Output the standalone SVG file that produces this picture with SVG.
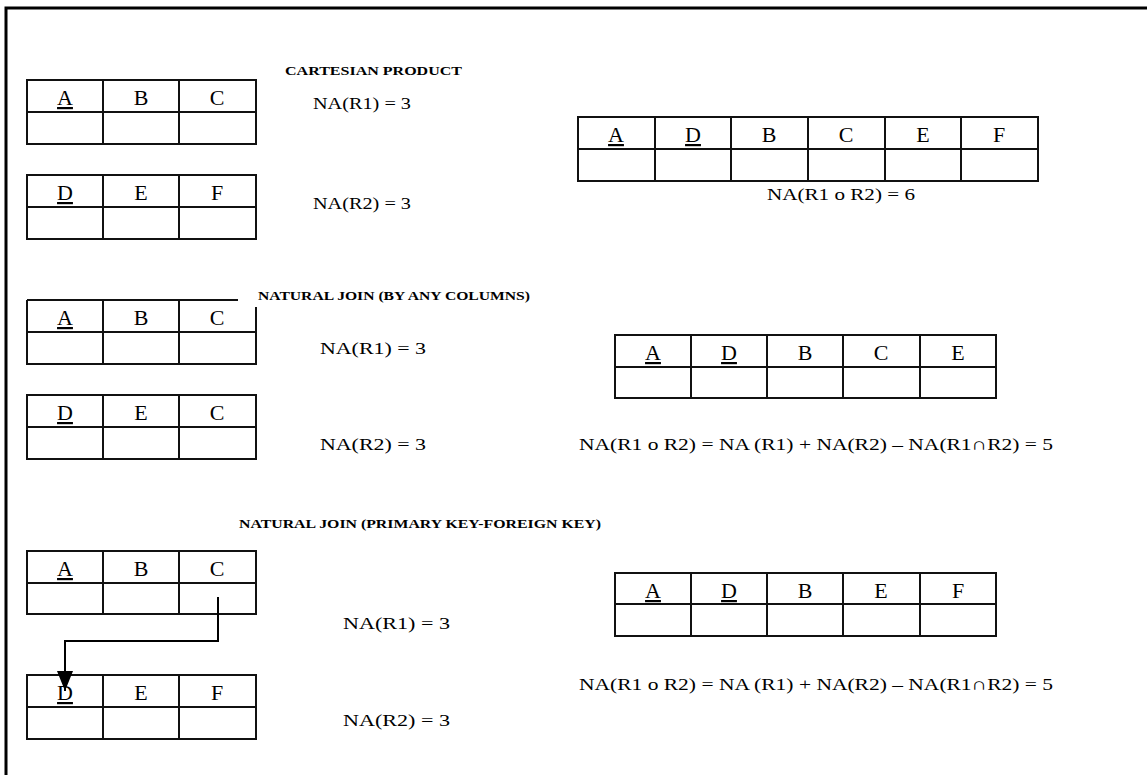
<svg xmlns="http://www.w3.org/2000/svg" width="1147" height="775" viewBox="0 0 1147 775">
  <style>
    .frame { stroke: #000; stroke-width: 3; fill: none; }
    .tbl { stroke: #111; stroke-width: 2; fill: none; }
    .hd { font-family: "Liberation Serif", "Times New Roman", serif; font-size: 22px; fill: #000; text-anchor: middle; }
    .pk { text-decoration: underline; }
    .na { font-family: "Liberation Serif", "Times New Roman", serif; font-size: 17px; fill: #000; }
    .title { font-family: "Liberation Serif", "Times New Roman", serif; font-size: 13px; font-weight: bold; fill: #000; }
    .conn { stroke: #000; stroke-width: 2; fill: none; }
  </style>
  <defs>
    <marker id="arrow" viewBox="0 0 20 16" refX="20" refY="8" markerWidth="20" markerHeight="16" markerUnits="userSpaceOnUse" orient="auto">
      <path d="M0,0 L20,8 L0,16 Z" fill="#000"/>
    </marker>
  </defs>
  <rect width="1147" height="775" fill="#fff"/>

  <!-- page frame: top and left rules only -->
  <path class="frame" d="M6,775 V8 H1147"/>

  <!-- ===== Cartesian product ===== -->
  <text class="title" x="285" y="75" textLength="177" lengthAdjust="spacingAndGlyphs">CARTESIAN PRODUCT</text>

  <g id="cp-r1">
    <rect class="tbl" x="27" y="80" width="229" height="64"/>
    <path class="tbl" d="M27,112 H256 M103,80 V144 M179,80 V144"/>
    <text class="hd pk" x="65" y="105">A</text>
    <text class="hd" x="141" y="105">B</text>
    <text class="hd" x="217" y="105">C</text>
  </g>
  <text class="na" x="313" y="109" textLength="98" lengthAdjust="spacingAndGlyphs">NA(R1) = 3</text>

  <g id="cp-r2">
    <rect class="tbl" x="27" y="175" width="229" height="64"/>
    <path class="tbl" d="M27,207 H256 M103,175 V239 M179,175 V239"/>
    <text class="hd pk" x="65" y="200">D</text>
    <text class="hd" x="141" y="200">E</text>
    <text class="hd" x="217" y="200">F</text>
  </g>
  <text class="na" x="313" y="209" textLength="98" lengthAdjust="spacingAndGlyphs">NA(R2) = 3</text>

  <g id="cp-result">
    <rect class="tbl" x="578" y="117" width="460" height="64"/>
    <path class="tbl" d="M578,149 H1038 M655,117 V181 M731,117 V181 M808,117 V181 M885,117 V181 M961,117 V181"/>
    <text class="hd pk" x="616" y="142">A</text>
    <text class="hd pk" x="693" y="142">D</text>
    <text class="hd" x="769" y="142">B</text>
    <text class="hd" x="846" y="142">C</text>
    <text class="hd" x="923" y="142">E</text>
    <text class="hd" x="999" y="142">F</text>
  </g>
  <text class="na" x="767" y="200" textLength="148" lengthAdjust="spacingAndGlyphs">NA(R1 o R2) = 6</text>

  <!-- ===== Natural join (by any columns) ===== -->
  <text class="title" x="258" y="300" textLength="272" lengthAdjust="spacingAndGlyphs">NATURAL JOIN (BY ANY COLUMNS)</text>

  <g id="nj-r1">
    <path class="tbl" d="M27,300 H238 M256,307 V364 H27 V300 M27,332 H256 M103,300 V364 M179,300 V364"/>
    <text class="hd pk" x="65" y="325">A</text>
    <text class="hd" x="141" y="325">B</text>
    <text class="hd" x="217" y="325">C</text>
  </g>
  <text class="na" x="320" y="354" textLength="106" lengthAdjust="spacingAndGlyphs">NA(R1) = 3</text>

  <g id="nj-r2">
    <rect class="tbl" x="27" y="395" width="229" height="64"/>
    <path class="tbl" d="M27,427 H256 M103,395 V459 M179,395 V459"/>
    <text class="hd pk" x="65" y="420">D</text>
    <text class="hd" x="141" y="420">E</text>
    <text class="hd" x="217" y="420">C</text>
  </g>
  <text class="na" x="320" y="450" textLength="106" lengthAdjust="spacingAndGlyphs">NA(R2) = 3</text>

  <g id="nj-result">
    <rect class="tbl" x="615" y="335" width="381" height="63"/>
    <path class="tbl" d="M615,367 H996 M691,335 V398 M767,335 V398 M843,335 V398 M920,335 V398"/>
    <text class="hd pk" x="653" y="360">A</text>
    <text class="hd pk" x="729" y="360">D</text>
    <text class="hd" x="805" y="360">B</text>
    <text class="hd" x="881" y="360">C</text>
    <text class="hd" x="958" y="360">E</text>
  </g>
  <text class="na" x="579" y="450" textLength="474" lengthAdjust="spacingAndGlyphs">NA(R1 o R2) = NA (R1) + NA(R2) – NA(R1∩R2) = 5</text>

  <!-- ===== Natural join (primary key - foreign key) ===== -->
  <text class="title" x="239" y="528" textLength="362" lengthAdjust="spacingAndGlyphs">NATURAL JOIN (PRIMARY KEY-FOREIGN KEY)</text>

  <g id="pk-r1">
    <rect class="tbl" x="27" y="551" width="229" height="63"/>
    <path class="tbl" d="M27,583 H256 M103,551 V614 M179,551 V614"/>
    <text class="hd pk" x="65" y="576">A</text>
    <text class="hd" x="141" y="576">B</text>
    <text class="hd" x="217" y="576">C</text>
  </g>
  <text class="na" x="343" y="629" textLength="107" lengthAdjust="spacingAndGlyphs">NA(R1) = 3</text>

  <g id="pk-r2">
    <rect class="tbl" x="27" y="675" width="229" height="64"/>
    <path class="tbl" d="M27,707 H256 M103,675 V739 M179,675 V739"/>
    <text class="hd pk" x="65" y="700">D</text>
    <text class="hd" x="141" y="700">E</text>
    <text class="hd" x="217" y="700">F</text>
  </g>
  <text class="na" x="343" y="726" textLength="107" lengthAdjust="spacingAndGlyphs">NA(R2) = 3</text>

  <g id="pk-result">
    <rect class="tbl" x="615" y="573" width="381" height="63"/>
    <path class="tbl" d="M615,604 H996 M691,573 V636 M767,573 V636 M843,573 V636 M920,573 V636"/>
    <text class="hd pk" x="653" y="598">A</text>
    <text class="hd pk" x="729" y="598">D</text>
    <text class="hd" x="805" y="598">B</text>
    <text class="hd" x="881" y="598">E</text>
    <text class="hd" x="958" y="598">F</text>
  </g>
  <text class="na" x="579" y="690" textLength="474" lengthAdjust="spacingAndGlyphs">NA(R1 o R2) = NA (R1) + NA(R2) – NA(R1∩R2) = 5</text>

  <!-- foreign key C of R1 references primary key D of R2 -->
  <g id="connectors">
    <path class="conn" d="M218,597 V641 H65 V691" marker-end="url(#arrow)"/>
  </g>
</svg>
